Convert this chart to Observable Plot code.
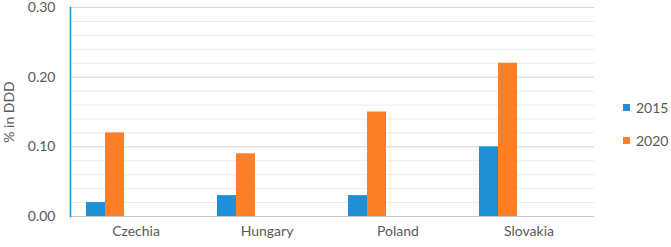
<!DOCTYPE html>
<html>
<head>
<meta charset="utf-8">
<script src="https://cdn.jsdelivr.net/npm/d3@7"></script>
<script src="https://cdn.jsdelivr.net/npm/@observablehq/plot@0.6"></script>
<style>
  html, body { margin: 0; padding: 0; background: #fff; }
  #wrap { position: relative; width: 671px; height: 247px; font-family: Lato, "Open Sans", sans-serif; }
  #wrap svg { overflow: visible; }
  #legend { position: absolute; left: 623px; top: 97px; font-size: 14px; color: #595959; }
  #legend .item { display: flex; align-items: center; height: 20px; margin-bottom: 13px; }
  #legend .sw { width: 7px; height: 7px; margin-right: 6px; }
</style>
</head>
<body>
<div id="wrap"><div id="legend"></div></div>
<script>
const countries = ["Czechia", "Hungary", "Poland", "Slovakia"];
const years = ["2015", "2020"];
const values2015 = [0.02, 0.03, 0.03, 0.10];
const values2020 = [0.12, 0.09, 0.15, 0.22];
const majorTicks = [0.00, 0.10, 0.20, 0.30];
const minorTicks = [0.02, 0.04, 0.06, 0.08, 0.12, 0.14, 0.16, 0.18, 0.22, 0.24, 0.26, 0.28];
const colors = ["#1f8fd6", "#fd7f28"];

const data = [];
countries.forEach((c, i) => {
  data.push({country: c, year: years[0], value: values2015[i]});
  data.push({country: c, year: years[1], value: values2020[i]});
});

const chart = Plot.plot({
  width: 671,
  height: 247,
  marginLeft: 68,
  marginRight: 76,
  marginTop: 7,
  marginBottom: 31,
  style: {fontFamily: "Lato, 'Open Sans', sans-serif", fontSize: "14px", color: "#595959", background: "white", overflow: "visible"},
  fx: {domain: countries, padding: 0, label: null},
  x: {domain: years, paddingInner: 0, paddingOuter: 2.294, align: 0.1744, axis: null},
  y: {domain: [0, 0.30], label: null},
  color: {domain: years, range: colors},
  marks: [
    Plot.ruleY(minorTicks, {stroke: "#ebebeb", strokeWidth: 1}),
    Plot.ruleY(majorTicks.slice(1), {stroke: "#d4d4d4", strokeWidth: 1}),
    Plot.ruleY([0], {stroke: "#c8c8c8", strokeWidth: 1}),
    Plot.barY(data, {fx: "country", x: "year", y: "value", fill: "year"}),
    Plot.axisY({ticks: majorTicks, tickFormat: d3.format(".2f"), tickSize: 0, tickPadding: 15, fontSize: 14,
      label: "% in DDD", labelAnchor: "center", labelOffset: 66, labelArrow: "none"}),
    Plot.axisFx({anchor: "bottom", tickSize: 0, tickPadding: 10, label: null, fontSize: 14}),
    Plot.frame({anchor: "left", stroke: "#1a8fd8", strokeWidth: 1.5, facetAnchor: "left"})
  ]
});
document.getElementById("wrap").prepend(chart);

const legend = document.getElementById("legend");
years.forEach((y, i) => {
  const item = document.createElement("div");
  item.className = "item";
  const sw = document.createElement("div");
  sw.className = "sw";
  sw.style.background = colors[i];
  const t = document.createElement("span");
  t.textContent = y;
  item.append(sw, t);
  legend.append(item);
});
</script>
</body>
</html>
